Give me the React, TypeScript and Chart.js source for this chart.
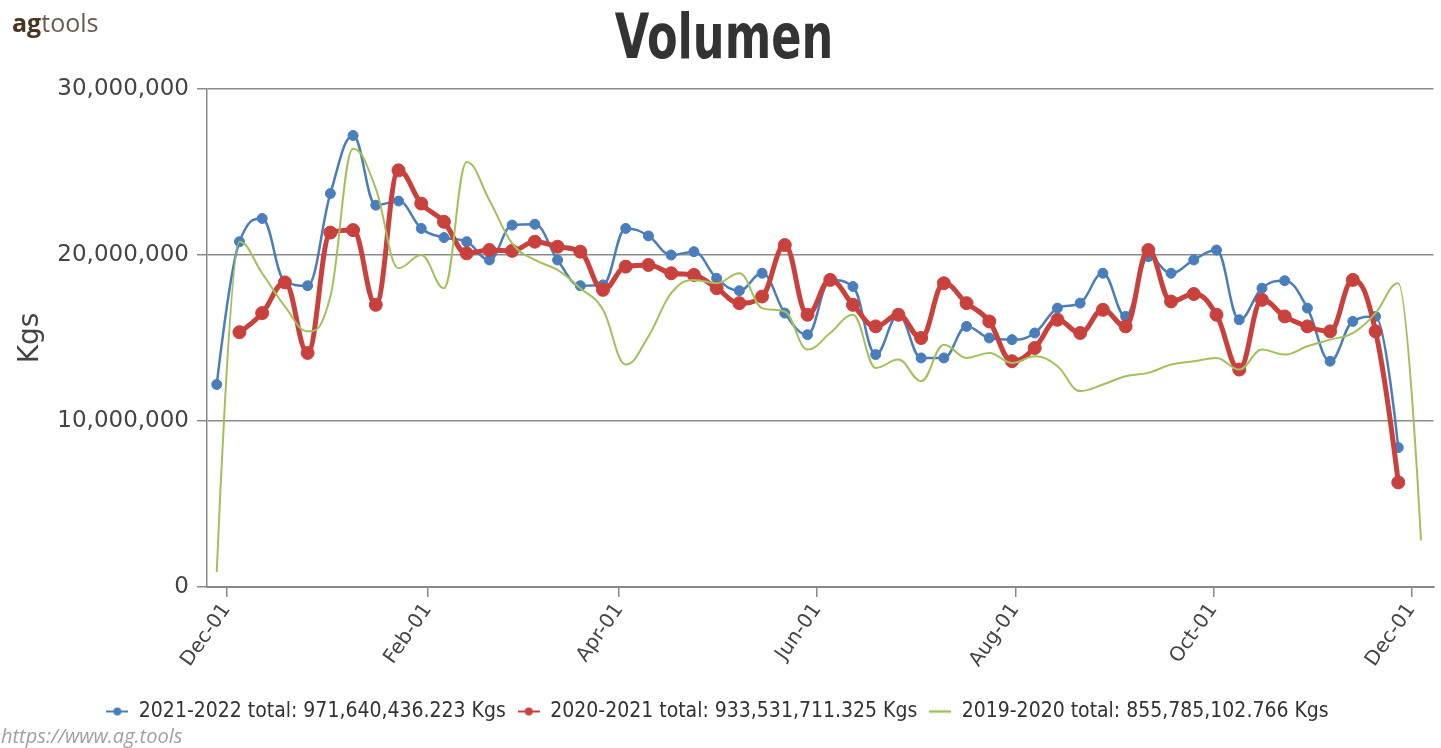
import React, { useEffect, useRef } from 'react';
import { Chart, registerables } from 'chart.js';

Chart.register(...registerables);

// Week dates, as days counted from Dec-01 (negative = late November)
const weekDays = [
  -3, 4, 11, 18, 25, 32, 39, 46, 53, 60, 67, 74, 81, 88, 95, 102, 109, 116, 123, 130,
  137, 144, 151, 158, 165, 172, 179, 186, 193, 200, 207, 214, 221, 228, 235, 242, 249,
  256, 263, 270, 277, 284, 291, 298, 305, 312, 319, 326, 333, 340, 347, 354, 361, 368,
];

// Weekly volume, millions of Kgs
const volume2122 = [
  12.2, 20.8, 22.2, 18.4, 18.15, 23.7, 27.2, 23.0, 23.25, 21.6, 21.05, 20.8, 19.7, 21.8,
  21.85, 19.7, 18.15, 18.2, 21.6, 21.15, 20.0, 20.2, 18.6, 17.85, 18.9, 16.5, 15.2, 18.5,
  18.1, 14.0, 16.4, 13.8, 13.8, 15.7, 15.0, 14.9, 15.3, 16.8, 17.1, 18.9, 16.3, 19.9, 18.9,
  19.7, 20.3, 16.1, 18.0, 18.45, 16.8, 13.6, 16.0, 16.3, 8.4,
];
const volume2021 = [
  null, 15.35, 16.5, 18.35, 14.1, 21.35, 21.5, 17.0, 25.1, 23.1, 22.0, 20.1, 20.3, 20.25,
  20.8, 20.5, 20.2, 17.9, 19.3, 19.4, 18.9, 18.8, 18.0, 17.1, 17.5, 20.6, 16.4, 18.5, 17.0,
  15.7, 16.4, 15.0, 18.3, 17.1, 16.0, 13.6, 14.4, 16.1, 15.3, 16.7, 15.7, 20.3, 17.2, 17.65,
  16.4, 13.1, 17.3, 16.3, 15.7, 15.4, 18.5, 15.4, 6.3,
];
const volume1920 = [
  0.9, 20.8, 18.9, 16.9, 15.4, 17.5, 26.4, 24.0, 19.2, 20.0, 18.0, 25.6, 23.3, 20.7, 19.7,
  19.1, 18.0, 16.7, 13.4, 15.1, 17.7, 18.5, 18.3, 18.9, 16.8, 16.6, 14.3, 15.3, 16.4, 13.2,
  13.7, 12.4, 14.6, 13.8, 14.1, 13.5, 13.9, 13.3, 11.8, 12.2, 12.7, 12.9, 13.4, 13.6, 13.8,
  13.1, 14.3, 14.0, 14.5, 14.9, 15.3, 16.5, 18.3, 2.8,
];

const seriesNames = ['2021-2022', '2020-2021', '2019-2020'];
const seriesTotals = ['971,640,436.223', '933,531,711.325', '855,785,102.766'];

const tickDays = [0, 62, 121, 182, 243, 304, 365];
const tickLabels = ['Dec-01', 'Feb-01', 'Apr-01', 'Jun-01', 'Aug-01', 'Oct-01', 'Dec-01'];
const yTicks = [0, 10000000, 20000000, 30000000];

const BLUE = '#4a7ebb';
const RED = '#c9413d';
const GREEN = '#a2c15a';
const FONT = "'DejaVu Sans', sans-serif";
const LEGEND_FONT = "'DejaVu Sans Condensed', 'Liberation Sans Narrow', 'DejaVu Sans', sans-serif";

function toPoints(values: (number | null)[]) {
  const out: { x: number; y: number }[] = [];
  values.forEach((v, i) => {
    if (v !== null && v !== undefined) out.push({ x: weekDays[i], y: v * 1e6 });
  });
  return out;
}

// Highcharts-style spline control points, computed from the scaled point positions
const splinePlugin = {
  id: 'hcSpline',
  beforeDatasetDraw(chart: any, args: any) {
    const meta = args.meta;
    const line = meta.dataset;
    if (!line || typeof line.updateControlPoints !== 'function') return;
    line.updateControlPoints(chart.chartArea, meta.iScale.axis);
    const pts = line.points || [];
    for (let i = 0; i < pts.length; i++) {
      const p = pts[i];
      const prev = pts[i - 1];
      const next = pts[i + 1];
      if (prev && next) {
        const sm = 1.5;
        const den = 2.5;
        const lcx = (sm * p.x + prev.x) / den;
        let lcy = (sm * p.y + prev.y) / den;
        const rcx = (sm * p.x + next.x) / den;
        let rcy = (sm * p.y + next.y) / den;
        let corr = 0;
        if (rcx !== lcx) corr = ((rcy - lcy) * (rcx - p.x)) / (rcx - lcx) + p.y - rcy;
        lcy += corr;
        rcy += corr;
        if (lcy > prev.y && lcy > p.y) {
          lcy = Math.max(prev.y, p.y);
          rcy = 2 * p.y - lcy;
        } else if (lcy < prev.y && lcy < p.y) {
          lcy = Math.min(prev.y, p.y);
          rcy = 2 * p.y - lcy;
        }
        if (rcy > next.y && rcy > p.y) {
          rcy = Math.max(next.y, p.y);
          lcy = 2 * p.y - rcy;
        } else if (rcy < next.y && rcy < p.y) {
          rcy = Math.min(next.y, p.y);
          lcy = 2 * p.y - rcy;
        }
        p.cp1x = lcx;
        p.cp1y = lcy;
        p.cp2x = rcx;
        p.cp2y = rcy;
      } else {
        p.cp1x = p.x;
        p.cp1y = p.y;
        p.cp2x = p.x;
        p.cp2y = p.y;
      }
    }
  },
};

function legendIcon(color: string, dot: boolean, lineW: number) {
  const c = document.createElement('canvas');
  c.width = 22;
  c.height = 12;
  const g = c.getContext('2d')!;
  g.strokeStyle = color;
  g.lineWidth = lineW;
  g.beginPath();
  g.moveTo(0, 6);
  g.lineTo(22, 6);
  g.stroke();
  if (dot) {
    g.fillStyle = color;
    g.beginPath();
    g.arc(11, 6, 4, 0, Math.PI * 2);
    g.fill();
  }
  return c;
}

export default function App() {
  const canvasRef = useRef<HTMLCanvasElement | null>(null);

  useEffect(() => {
    document.body.style.margin = '0';
    document.body.style.overflow = 'hidden';
    const canvas = canvasRef.current;
    if (!canvas) return;
    const icons = [legendIcon(BLUE, true, 2), legendIcon(RED, true, 2), legendIcon(GREEN, false, 2.5)];
    const colors = [BLUE, RED, GREEN];

    const chart = new Chart(canvas, {
      type: 'line',
      data: {
        datasets: [
          {
            label: `${seriesNames[0]} total: ${seriesTotals[0]} Kgs`,
            data: toPoints(volume2122),
            borderColor: BLUE,
            backgroundColor: BLUE,
            borderWidth: 2.5,
            pointRadius: 5,
            pointBackgroundColor: BLUE,
            pointBorderColor: BLUE,
            pointBorderWidth: 1,
            tension: 0.4,
            order: 2,
          },
          {
            label: `${seriesNames[1]} total: ${seriesTotals[1]} Kgs`,
            data: toPoints(volume2021),
            borderColor: RED,
            backgroundColor: RED,
            borderWidth: 5,
            pointRadius: 6.5,
            pointBackgroundColor: RED,
            pointBorderColor: RED,
            pointBorderWidth: 1,
            tension: 0.4,
            order: 1,
          },
          {
            label: `${seriesNames[2]} total: ${seriesTotals[2]} Kgs`,
            data: toPoints(volume1920),
            borderColor: GREEN,
            backgroundColor: GREEN,
            borderWidth: 2,
            pointRadius: 0,
            tension: 0.4,
            order: 0,
          },
        ],
      },
      options: {
        responsive: false,
        animation: false,
        events: [],
        layout: { padding: { top: 89, right: 6, bottom: 16, left: 0 } },
        plugins: {
          title: { display: false },
          tooltip: { enabled: false },
          legend: {
            display: true,
            position: 'bottom',
            labels: {
              usePointStyle: true,
              pointStyleWidth: 22,
              boxHeight: 12,
              padding: 12,
              color: '#333',
              font: { family: LEGEND_FONT, size: 21 },
              generateLabels: (ch: any) =>
                ch.data.datasets.map((ds: any, i: number) => ({
                  text: ds.label,
                  fillStyle: colors[i],
                  strokeStyle: colors[i],
                  fontColor: '#333',
                  lineWidth: 0,
                  pointStyle: icons[i],
                  hidden: false,
                  datasetIndex: i,
                })),
            },
          },
        },
        scales: {
          x: {
            type: 'linear',
            min: -6,
            max: 371.85,
            afterBuildTicks: (s: any) => {
              s.ticks = tickDays.map((v) => ({ value: v }));
            },
            afterFit: (s: any) => {
              s.height = 102;
            },
            ticks: {
              autoSkip: false,
              minRotation: 55,
              maxRotation: 55,
              padding: 2,
              color: '#444',
              font: { family: FONT, size: 20 },
              callback: (_v: any, i: number) => tickLabels[i] ?? '',
            },
            grid: { drawOnChartArea: false, drawTicks: true, tickLength: 10, color: '#888', lineWidth: 1.5 },
            border: { display: true, color: '#888', width: 2 },
          },
          y: {
            min: 0,
            max: 30000000,
            afterBuildTicks: (s: any) => {
              s.ticks = yTicks.map((v) => ({ value: v }));
            },
            afterFit: (s: any) => {
              s.width = 207;
            },
            ticks: {
              padding: 8,
              color: '#444',
              font: { family: FONT, size: 23 },
              callback: (v: any) => Number(v).toLocaleString('en-US'),
            },
            grid: { color: '#8c8c8c', lineWidth: 1.5, tickLength: 10, drawTicks: true },
            border: { display: true, color: '#888', width: 1.5 },
            title: {
              display: true,
              text: 'Kgs',
              color: '#444',
              font: { family: FONT, size: 28 },
              padding: { top: 14, bottom: 0 },
            },
          },
        },
      },
      plugins: [splinePlugin],
    } as any);

    return () => chart.destroy();
  }, []);

  return (
    <div style={{ position: 'relative', width: 1441, height: 748, overflow: 'hidden', background: '#fff' }}>
      <canvas ref={canvasRef} width={1441} height={748} style={{ position: 'absolute', left: 0, top: 0, width: 1441, height: 748 }} />
      <div
        style={{
          position: 'absolute',
          left: 12,
          top: 5,
          fontFamily: "'Open Sans', sans-serif",
          fontSize: 25,
          lineHeight: '34px',
        }}
      >
        <span style={{ fontWeight: 700, color: '#4a3423' }}>ag</span>
        <span style={{ color: '#6a5a4f' }}>tools</span>
      </div>
      <div
        style={{
          position: 'absolute',
          left: 724,
          top: 6,
          transform: 'translateX(-50%) scaleX(0.72)',
          fontFamily: FONT,
          fontWeight: 700,
          fontSize: 62,
          lineHeight: '62px',
          color: '#333',
          whiteSpace: 'nowrap',
        }}
      >
        Volumen
      </div>
      <div
        style={{
          position: 'absolute',
          left: 1,
          top: 724,
          fontFamily: "'Open Sans', sans-serif",
          fontStyle: 'italic',
          fontSize: 20,
          lineHeight: '24px',
          color: '#a0a0a0',
        }}
      >
        https://www.ag.tools
      </div>
    </div>
  );
}
